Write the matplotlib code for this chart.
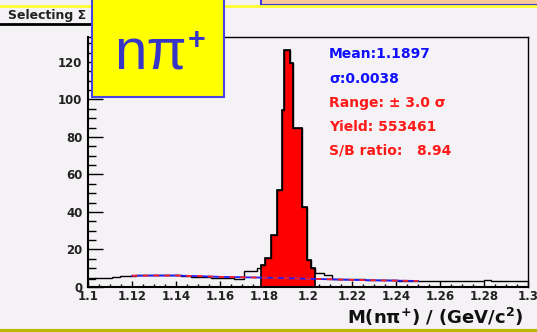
import matplotlib.pyplot as plt
import matplotlib.patches as patches
from matplotlib.ticker import MultipleLocator, FuncFormatter
import numpy as np

plt.rcParams['font.family'] = ['DejaVu Sans']
plt.rcParams['mathtext.fontset'] = 'custom'
plt.rcParams['mathtext.rm'] = 'DejaVu Sans:bold'
plt.rcParams['mathtext.bf'] = 'DejaVu Sans:bold'
plt.rcParams['mathtext.default'] = 'rm'

#------------------------
# n pi+ invariant mass histogram (bin edges in GeV/c^2, entries per bin)
bin_edges = [1.1000, 1.1032, 1.1110, 1.1147, 1.1216, 1.1422, 1.1468, 1.1560,
             1.1628, 1.1665, 1.1711, 1.1766, 1.1786,
             1.1804, 1.1832, 1.1858, 1.1881, 1.1893, 1.1919, 1.1931, 1.1972,
             1.1995, 1.2015, 1.2034,
             1.2075, 1.2110, 1.2260, 1.2410, 1.2520, 1.2800, 1.2830, 1.3000]
counts = [4.1, 5.0, 5.5, 6.0, 6.6, 6.0, 5.5, 5.0, 4.6, 4.2, 8.7, 10.0,
          11.7, 15.3, 27.7, 51.7, 94.4, 126.4, 119.3, 84.6, 42.8, 14.4, 10.0,
          7.3, 6.4, 4.2, 3.7, 3.4, 3.2, 3.5, 3.1]

# signal window (filled red)
sig_lo = 1.1786
sig_hi = 1.2034

# background fit
bkg_x = [1.120, 1.130, 1.140, 1.150, 1.160, 1.170, 1.180, 1.190, 1.200,
         1.210, 1.220, 1.230, 1.240, 1.250]
bkg_y = [6.0, 6.1, 6.1, 5.8, 5.4, 5.2, 5.0, 4.7, 4.4, 4.1, 3.8, 3.6, 3.4, 3.2]

stats_lines = [("Mean:1.1897", "#1010ff"),
               ("\u03c3:0.0038", "#1010ff"),
               ("Range: \u00b1 3.0 \u03c3", "#ff1a1a"),
               ("Yield: 553461", "#ff1a1a"),
               ("S/B ratio:   8.94", "#ff1a1a")]

W, H = 537, 332
bg = '#f5f2f5'

fig = plt.figure(figsize=(W / 100, H / 100), dpi=100, facecolor=bg)
ax = fig.add_axes([88 / W, 1 - 287 / H, 440 / W, 250 / H], facecolor=bg)

edges = np.array(bin_edges)
vals = np.array(counts)

# red signal region with black outline
sel = (edges[:-1] >= sig_lo - 1e-9) & (edges[1:] <= sig_hi + 1e-9)
sig_edges = np.append(edges[:-1][sel], edges[1:][sel][-1])
ax.stairs(vals[sel], sig_edges, fill=True, color='red', lw=0, zorder=2)
ax.stairs(vals[sel], sig_edges, color='black', lw=1.2, zorder=3)

# full histogram
ax.stairs(vals, edges, color='black', lw=1.0, baseline=None, zorder=3)

# background fit, blue/red dashes
ax.plot(bkg_x, bkg_y, color='#2020ff', lw=1.3, zorder=4)
ax.plot(bkg_x, bkg_y, color='#ff2020', lw=1.3, dashes=(3, 3), zorder=5)

ax.set_xlim(1.1, 1.3)
ax.set_ylim(0, 133.3)

ax.xaxis.set_major_locator(MultipleLocator(0.02))
ax.xaxis.set_minor_locator(MultipleLocator(0.005))
ax.yaxis.set_major_locator(MultipleLocator(20))
ax.yaxis.set_minor_locator(MultipleLocator(5))
ax.xaxis.set_major_formatter(FuncFormatter(lambda v, p: '%g' % round(v, 3)))

ax.tick_params(axis='y', which='major', direction='in', length=10.8, width=1.0,
               labelsize=8.5, pad=4)
ax.tick_params(axis='y', which='minor', direction='in', length=5.8, width=1.0)
ax.tick_params(axis='x', which='major', direction='in', length=4.3, width=1.0,
               labelsize=8.5, pad=2.5)
ax.tick_params(axis='x', which='minor', direction='in', length=2.2, width=1.0)
for lab in ax.get_xticklabels() + ax.get_yticklabels():
    lab.set_fontweight('bold')
    lab.set_color('#222222')
for s in ax.spines.values():
    s.set_linewidth(1.0)
ax.spines['left'].set_linewidth(1.5)
ax.spines['bottom'].set_linewidth(1.5)

# stats box text
for i, (txt, col) in enumerate(stats_lines):
    fig.text(329 / W, 1 - (54.5 + 24 * i) / H, txt, color=col, fontsize=10,
             fontweight='bold', va='center', ha='left')

fig.text(523 / W, 1 - 317 / H, r'M(n$\pi^{+}$) / (GeV/c$^{2}$)',
         ha='right', va='center', fontsize=13, fontweight='bold', color='#111111')

# canvas decorations
fig.add_artist(plt.Line2D([0, 1], [1 - 6 / H, 1 - 6 / H], color='#ffff30', lw=2))
fig.add_artist(patches.Rectangle((261 / W, 1 - 5 / H), 280 / W, 10 / H,
                                 facecolor='#fbc89a', edgecolor='#3a3adf', lw=1.5))
fig.text(8 / W, 1 - 15 / H, 'Selecting \u03a3', fontsize=9, fontweight='bold',
         va='center', ha='left', color='#222222')
fig.add_artist(plt.Line2D([0, 92 / W], [1 - 24 / H, 1 - 24 / H], color='black', lw=2))
fig.add_artist(plt.Line2D([0, 1], [1 - 331 / H, 1 - 331 / H], color='#b8b800', lw=3))

# yellow label box
fig.add_artist(patches.Rectangle((92 / W, 1 - 97 / H), 132 / W, 100 / H,
                                 facecolor='#ffff00', edgecolor='#4545dd', lw=1.5,
                                 zorder=10))
fig.text(151 / W, 1 - 55 / H, 'n\u03c0', fontsize=42, color='#3535c8',
         family='Liberation Sans', ha='center', va='center', zorder=11)
fig.text(197 / W, 1 - 41 / H, '+', fontsize=22, fontweight='bold', color='#3535c8',
         family='Liberation Sans', ha='center', va='center', zorder=11)

fig.savefig('out.png', dpi=100, facecolor=bg)
